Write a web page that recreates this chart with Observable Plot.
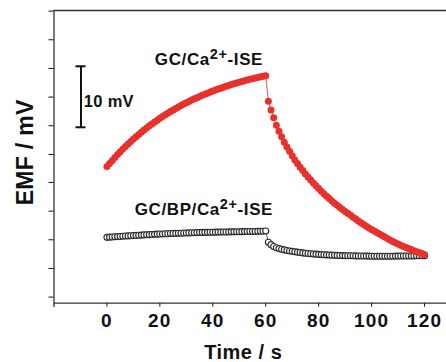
<!DOCTYPE html>
<html><head><meta charset="utf-8">
<script src="https://cdn.jsdelivr.net/npm/d3@7"></script>
<script src="https://cdn.jsdelivr.net/npm/@observablehq/plot@0.6"></script>
<style>body{margin:0;background:#fff;overflow:hidden}</style>
</head><body><div id="chart"></div>
<script>
// time (s), sampled every second
const time = [0,1,2,3,4,5,6,7,8,9,10,11,12,13,14,15,16,17,18,19,20,21,22,23,24,25,26,27,28,29,30,31,32,33,34,35,36,37,38,39,40,41,42,43,44,45,46,47,48,49,50,51,52,53,54,55,56,57,58,59,60,61,62,63,64,65,66,67,68,69,70,71,72,73,74,75,76,77,78,79,80,81,82,83,84,85,86,87,88,89,90,91,92,93,94,95,96,97,98,99,100,101,102,103,104,105,106,107,108,109,110,111,112,113,114,115,116,117,118,119,120];
// EMF (mV, arbitrary offset) of GC/Ca2+-ISE
const emfGC = [22.4,22.91,23.41,23.9,24.37,24.82,25.27,25.7,26.12,26.53,26.92,27.31,27.68,28.05,28.4,28.74,29.08,29.4,29.72,30.02,30.32,30.61,30.89,31.17,31.43,31.69,31.94,32.19,32.42,32.65,32.88,33.09,33.31,33.51,33.71,33.9,34.09,34.28,34.45,34.63,34.8,34.96,35.12,35.27,35.42,35.57,35.71,35.85,35.98,36.11,36.24,36.36,36.48,36.6,36.71,36.82,36.93,37.03,37.13,37.23,37.32,
33.1,31.7,30.4,29.2,28.2,27.3,26.4,25.6,24.9,24.2,23.5,22.9,22.3,21.75,21.2,20.7,20.2,19.7,19.25,18.8,18.35,17.95,17.55,17.15,16.75,16.4,16.05,15.7,15.35,15.05,14.75,14.45,14.1,13.8,13.5,13.2,12.9,12.6,12.35,12.1,11.85,11.6,11.35,11.1,10.85,10.62,10.37,10.12,9.9,9.7,9.5,9.3,9.15,8.95,8.8,8.6,8.45,8.3,8.15,8.0];
// EMF (mV, arbitrary offset) of GC/BP/Ca2+-ISE
const emfBP = [10.8,10.83,10.86,10.89,10.92,10.95,10.98,11.01,11.04,11.07,11.1,11.12,11.15,11.17,11.2,11.22,11.24,11.27,11.29,11.32,11.34,11.36,11.38,11.4,11.42,11.43,11.45,11.46,11.48,11.5,11.51,11.53,11.55,11.56,11.58,11.6,11.61,11.62,11.62,11.63,11.64,11.65,11.66,11.66,11.67,11.68,11.69,11.7,11.7,11.71,11.72,11.73,11.74,11.75,11.76,11.76,11.77,11.78,11.79,11.8,11.85,
10.0,9.6,9.3,9.1,8.95,8.85,8.75,8.65,8.57,8.5,8.43,8.37,8.31,8.25,8.2,8.16,8.12,8.08,8.04,8.0,7.97,7.94,7.92,7.9,7.88,7.86,7.84,7.82,7.81,7.8,7.79,7.78,7.77,7.76,7.75,7.74,7.73,7.72,7.72,7.71,7.71,7.7,7.7,7.7,7.7,7.7,7.71,7.71,7.72,7.72,7.73,7.73,7.74,7.74,7.75,7.76,7.77,7.78,7.78,7.8];

const xTicks = [0,20,40,60,80,100,120];
const yTicks = [1,5.7,10.4,15.1,19.8,24.4,29.1,33.8,38.5,43.2,47.9];
const xDomain = [-20, 128.3];
const yDomain = [0, 48];
const scaleBar = {t: -9.8, low: 28.85, high: 38.85, label: "10 mV"};
const seriesLabels = [
  {t: 18.3, v: 38.97, pre: "GC/Ca", sup: "2+", post: "-ISE"},
  {t: 10.7, v: 14.4, pre: "GC/BP/Ca", sup: "2+", post: "-ISE"}
];
const xTitle = "Time / s";
const yTitle = "EMF / mV";

const gc = time.map((t, i) => ({t, v: emfGC[i]}));
const bp = time.map((t, i) => ({t, v: emfBP[i]}));

const red = "#e8312c";
const axisColor = "#333";
const font = "'Liberation Sans', Arial, sans-serif";

const plot = Plot.plot({
  width: 446, height: 362,
  marginLeft: 53.5, marginRight: 0, marginTop: 10, marginBottom: 59.3,
  style: {fontFamily: font, fontWeight: "bold", fontSize: "19px", letterSpacing: "1.2px", color: "#111", background: "#fff", overflow: "visible"},
  x: {domain: xDomain, ticks: xTicks, tickSize: 4, tickPadding: 6, label: null, tickFormat: d => String(d)},
  y: {domain: yDomain, ticks: yTicks, tickSize: 5, tickFormat: () => "", label: null},
  marks: [
    Plot.ruleY([yDomain[1]], {x1: xDomain[0], x2: xDomain[1], stroke: axisColor, strokeWidth: 1.3}),
    Plot.ruleY([yDomain[0]], {x1: xDomain[0], x2: xDomain[1], stroke: axisColor, strokeWidth: 1.3}),
    Plot.ruleX([xDomain[0]], {y1: -0.7, y2: yDomain[1], stroke: axisColor, strokeWidth: 1.3}),
    Plot.ruleX([scaleBar.t], {y1: scaleBar.low, y2: scaleBar.high, stroke: "#111", strokeWidth: 2}),
    Plot.ruleY([scaleBar.low, scaleBar.high], {x1: scaleBar.t - 1.9, x2: scaleBar.t + 1.9, stroke: "#111", strokeWidth: 2}),
    Plot.line(bp, {x: "t", y: "v", stroke: "#444", strokeWidth: 0.9}),
    Plot.dot(bp, {x: "t", y: "v", r: 3, fill: "#fff", stroke: "#2a2a2a", strokeWidth: 1.1}),
    Plot.line(gc, {x: "t", y: "v", stroke: "#d46a6a", strokeWidth: 1.1}),
    Plot.dot(gc, {x: "t", y: "v", r: 3.5, fill: red, stroke: "none"})
  ]
});

const svg = d3.select(plot);
const sx = plot.scale("x"), sy = plot.scale("y");
// scale bar label
svg.append("text")
  .attr("x", sx.apply(scaleBar.t + 1.25)).attr("y", sy.apply((scaleBar.low + scaleBar.high) / 2) + 11)
  .attr("text-anchor", "start").attr("font-size", 16.5).attr("font-weight", "bold").attr("fill", "#111")
  .attr("letter-spacing", "0.3px").attr("font-family", font).text(scaleBar.label);
for (const L of seriesLabels) {
  const tx = svg.append("text")
    .attr("x", sx.apply(L.t)).attr("y", sy.apply(L.v))
    .attr("text-anchor", "start")
    .attr("font-size", 17).attr("font-weight", "bold").attr("fill", "#111")
    .attr("letter-spacing", "0.6px").attr("font-family", font);
  tx.append("tspan").text(L.pre);
  tx.append("tspan").attr("dy", -6).attr("font-size", 14.5).text(L.sup);
  tx.append("tspan").attr("dy", 6).text(L.post);
}
svg.append("text").attr("x", sx.apply(60) - 22).attr("y", 358.5)
  .attr("text-anchor", "middle").attr("font-size", 20).attr("font-weight", "bold").attr("fill", "#111")
  .attr("letter-spacing", "0.5px").attr("font-family", font)
  .text(xTitle);
const [y0, y1] = sy.range;
svg.append("text").attr("transform", `translate(33,${(y0 + y1) / 2 - 4}) rotate(-90)`)
  .attr("text-anchor", "middle").attr("font-size", 23).attr("font-weight", "bold").attr("fill", "#111")
  .attr("letter-spacing", "0.3px").attr("font-family", font)
  .text(yTitle);

document.getElementById("chart").appendChild(plot);
</script>
</body></html>
